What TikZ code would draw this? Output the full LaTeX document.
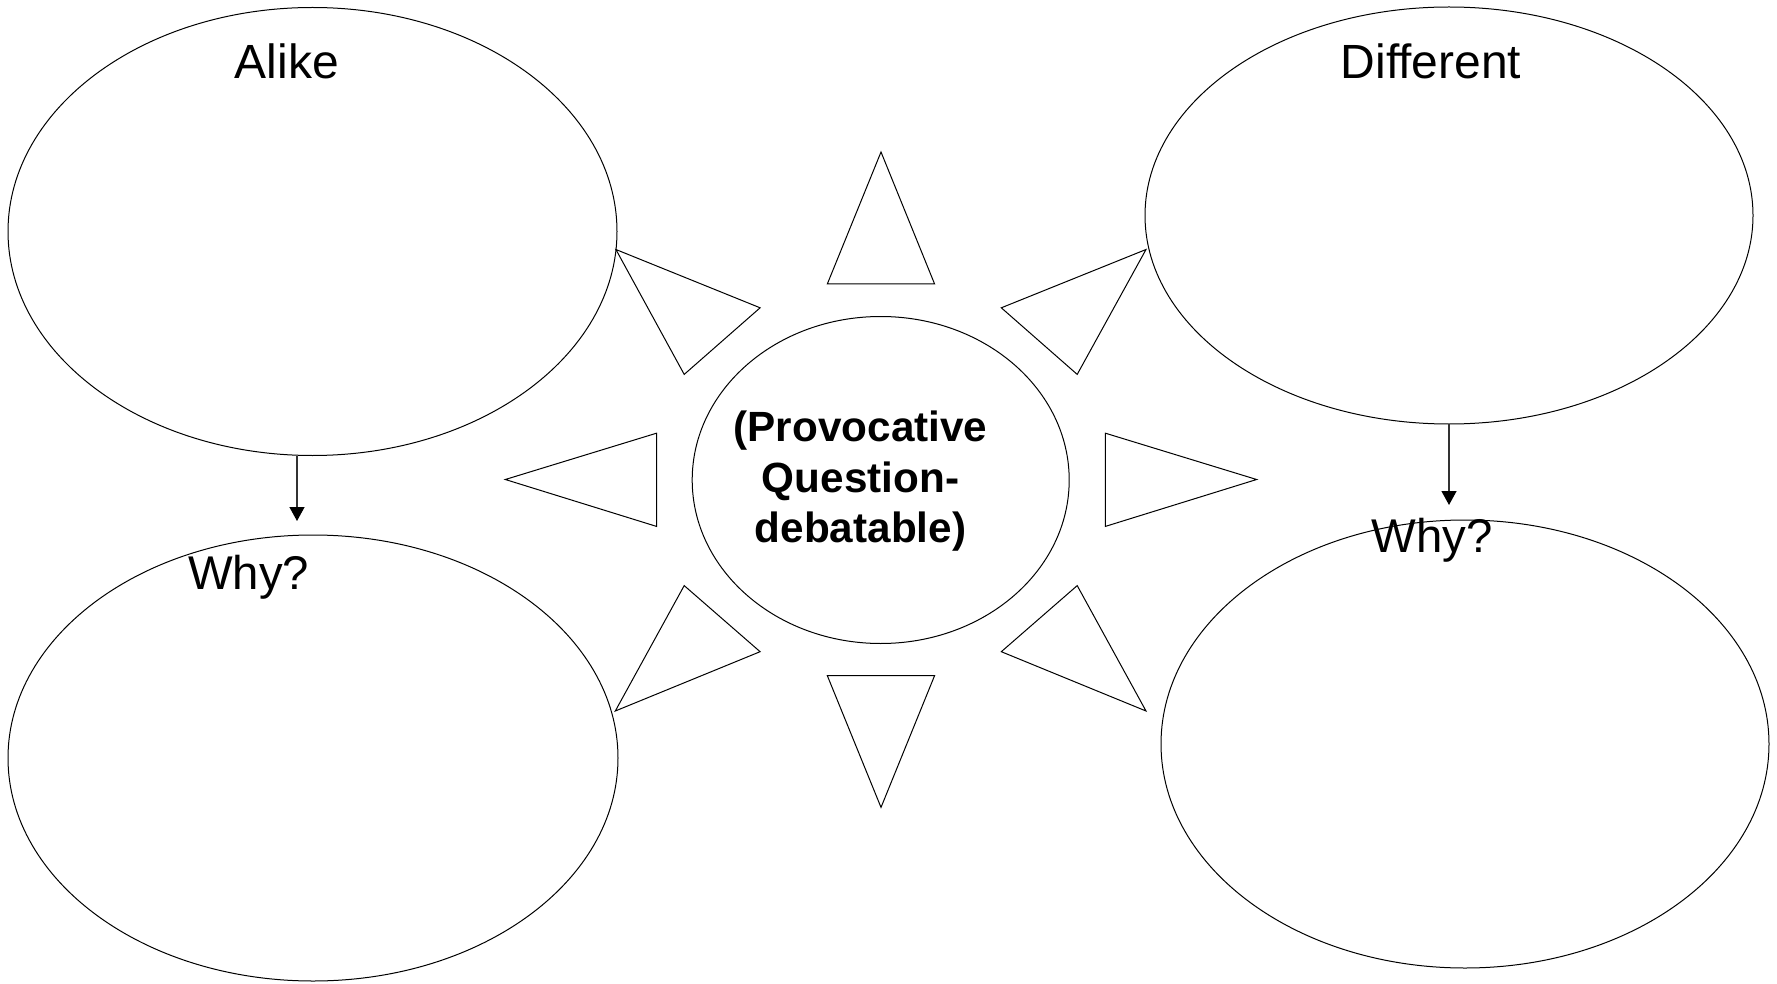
\documentclass[tikz,border=0pt]{standalone}
\usepackage{fontspec}
\setmainfont{Liberation Sans}
\usetikzlibrary{shapes.geometric,arrows.meta}
\begin{document}
\begin{tikzpicture}[x=0.75pt,y=-0.75pt,
  bubble/.style={draw,ellipse,line width=0.75pt,inner sep=0pt,outer sep=0pt},
  heading/.style={anchor=base,inner sep=0pt,font=\fontsize{36}{41}\selectfont},
  whylabel/.style={anchor=base,inner sep=0pt,font=\fontsize{35.5}{40}\selectfont},
  ray/.style={draw,line width=0.75pt,line join=miter},
  pointer/.style={draw=black!80,line width=1pt,
    -{Triangle[width=11.25pt,length=10.5pt,color=black,fill=black]}}]
\useasboundingbox (0,0) rectangle (1777,984);

% four answer bubbles
\node[bubble,minimum width=609*0.75pt,minimum height=448*0.75pt] (alike) at (312.5,231.5) {};
\node[bubble,minimum width=610*0.75pt,minimum height=446*0.75pt] (alikewhy) at (313,758) {};
\node[bubble,minimum width=608*0.75pt,minimum height=417*0.75pt] (diff) at (1449,215.5) {};
\node[bubble,minimum width=608*0.75pt,minimum height=448*0.75pt] (diffwhy) at (1465,744) {};

% central question (base anchor sits on the last line)
\node[bubble,minimum width=377*0.75pt,minimum height=327*0.75pt] (question) at (880.7,480) {};
\node[anchor=base,inner sep=0pt,align=center,
      font=\bfseries\fontsize{31.7}{37.9}\selectfont] (qtext) at (860.5,542.7)
  {(Provocative\\Question-\\debatable)};

% headings
\node[heading] (alikelabel) at (287,79) {Alike};
\node[heading] (difflabel) at (1431,79) {Different};
\node[whylabel] (why1) at (248.5,589.5) {Why?};
\node[whylabel] (why2) at (1432,552) {Why?};

% pointers from each heading bubble to its "Why?" bubble
\coordinate (tip1) at (297,521);
\coordinate (tip2) at (1449,505);
\draw[pointer] (alike.south -| tip1) -- (tip1);
\draw[pointer] (diff.south -| tip2) -- (tip2);

% sun rays around the question
\draw[ray] (881,152) -- (827.3,284) -- (934.6,284) -- cycle;
\draw[ray] (827.3,675.6) -- (934.6,675.6) -- (881,807.4) -- cycle;
\draw[ray] (505.3,479.5) -- (656.5,433.2) -- (656.5,526.4) -- cycle;
\draw[ray] (1105.4,433.2) -- (1105.4,526.4) -- (1256.6,479.5) -- cycle;
\draw[ray] (615.9,249.5) -- (760.1,307.8) -- (684.2,374.4) -- cycle;
\draw[ray] (1146,249.5) -- (1001.3,307.8) -- (1077.2,374.4) -- cycle;
\draw[ray] (684.2,585.6) -- (760.1,651.7) -- (615.3,711) -- cycle;
\draw[ray] (1077.2,585.6) -- (1001.3,651.7) -- (1146,711) -- cycle;
\end{tikzpicture}
\end{document}
